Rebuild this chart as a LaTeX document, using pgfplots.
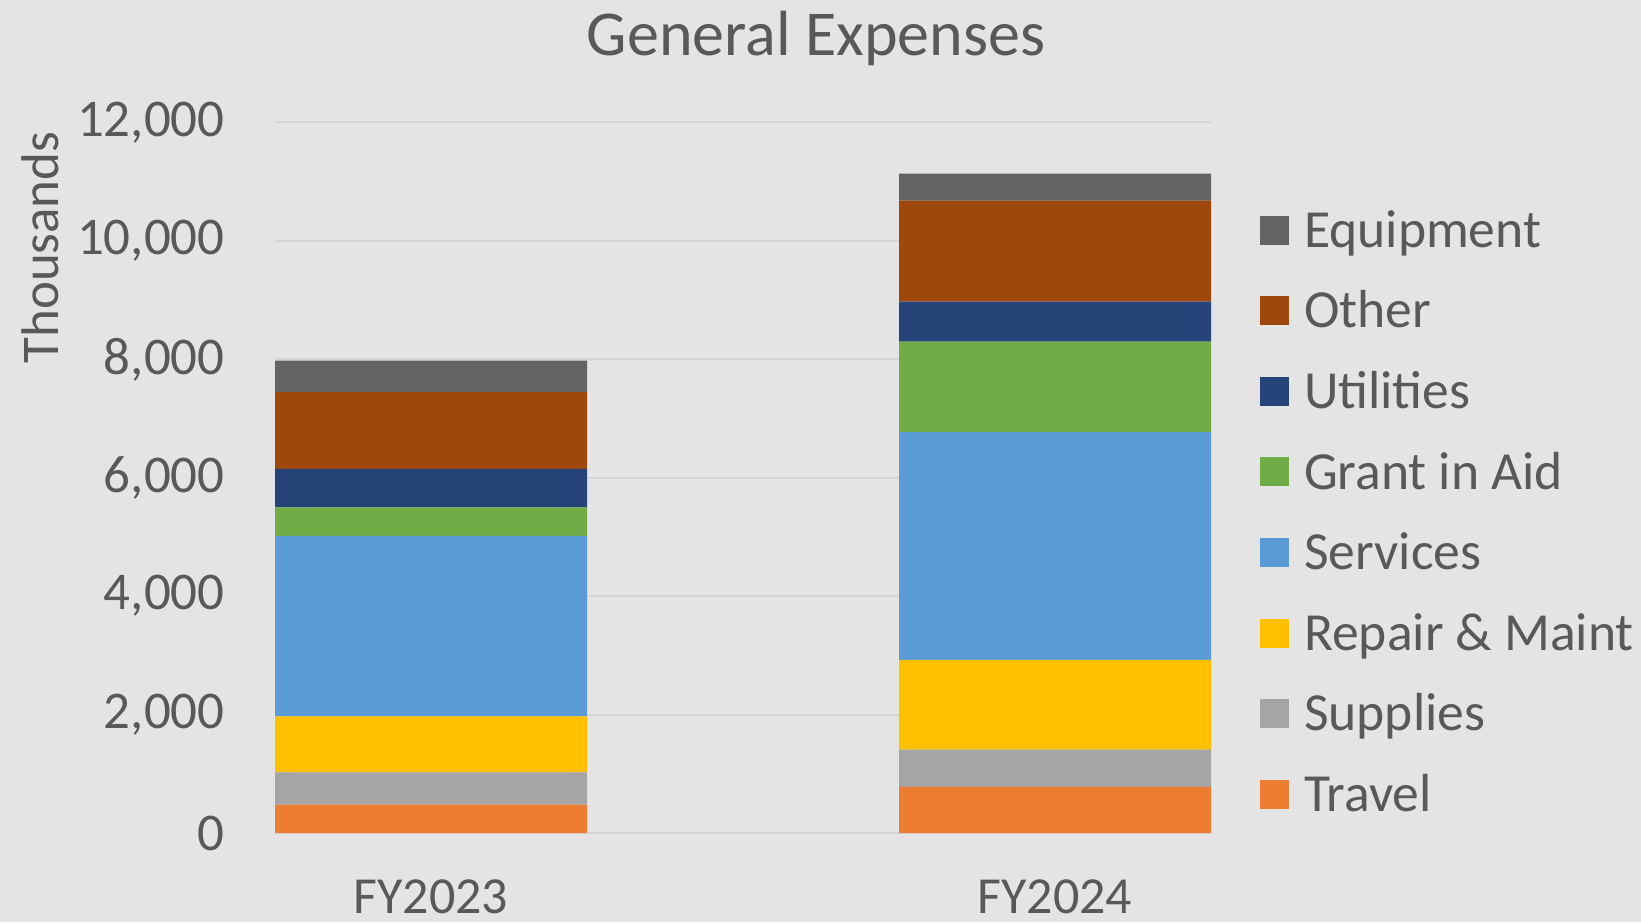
\documentclass[border=0pt]{standalone}
\usepackage{pgfplots}
\pgfplotsset{compat=1.18}
\usepackage{fontspec}
\setmainfont{Carlito}
\definecolor{bg}{HTML}{E4E4E4}
\definecolor{gridc}{HTML}{D5D5D5}
\definecolor{textc}{HTML}{595959}
\definecolor{cTravel}{HTML}{ED7D31}
\definecolor{cSupplies}{HTML}{A5A5A5}
\definecolor{cRepair}{HTML}{FFC000}
\definecolor{cServices}{HTML}{5B9BD5}
\definecolor{cGrant}{HTML}{70AD47}
\definecolor{cUtilities}{HTML}{264478}
\definecolor{cOther}{HTML}{9E480E}
\definecolor{cEquipment}{HTML}{636363}
\begin{document}
\begin{tikzpicture}
\fill[bg] (0,0) rectangle (820.5pt,461pt);
\node[text=textc, font=\fontsize{32pt}{36pt}\selectfont, inner sep=0pt] at (408pt,442pt) {General Expenses};
\begin{axis}[
  at={(137.5pt,44.5pt)}, anchor=south west,
  scale only axis, width=468pt, height=355.25pt,
  ybar stacked, bar width=0.5,
  xmin=-0.25, xmax=1.25, ymin=0, ymax=12000,
  xtick={0,1}, xticklabels={FY2023,FY2024},
  ytick={0,2000,...,12000},
  axis line style={draw=none},
  major tick length=0pt,
  ymajorgrids, grid style={draw=gridc, line width=1pt},
  scaled y ticks=false,
  yticklabel style={/pgf/number format/fixed, /pgf/number format/1000 sep={,}, /pgf/number format/assume math mode=true, anchor=east, inner sep=0pt, xshift=-25pt, text=textc, font=\fontsize{26.5pt}{30pt}\selectfont},
  xticklabel style={anchor=center, inner sep=0pt, yshift=-32pt, text=textc, font=\fontsize{26pt}{30pt}\selectfont},
  ylabel={Thousands},
  ylabel style={at={(axis description cs:-0.251,0.824)}, anchor=center, rotate=0, inner sep=0pt, text=textc, font=\fontsize{26.5pt}{30pt}\selectfont},
  legend image code/.code={\fill[#1] (0pt,-7.25pt) rectangle (14.5pt,7.25pt);},
  reverse legend,
  legend cell align=left,
  legend style={at={(1.0524,0.8730)}, anchor=north west, draw=none, fill=none, inner sep=0pt, outer sep=0pt, row sep=23pt, column sep=7.5pt, font=\fontsize{26.8pt}{30pt}\selectfont, nodes={inner sep=0pt, text height=17.3pt, text depth=0pt, text=textc}},
  every axis plot/.append style={draw=none},
]
\addplot[fill=cTravel] coordinates {(0,480) (1,780)};
\addplot[fill=cSupplies] coordinates {(0,545) (1,630)};
\addplot[fill=cRepair] coordinates {(0,945) (1,1515)};
\addplot[fill=cServices] coordinates {(0,3050) (1,3845)};
\addplot[fill=cGrant] coordinates {(0,480) (1,1530)};
\addplot[fill=cUtilities] coordinates {(0,650) (1,675)};
\addplot[fill=cOther] coordinates {(0,1295) (1,1705)};
\addplot[fill=cEquipment] coordinates {(0,535) (1,455)};
\legend{Travel,Supplies,Repair \& Maint,Services,Grant in Aid,Utilities,Other,Equipment}
\end{axis}
\pgfresetboundingbox
\useasboundingbox (0,0) rectangle (820.5pt,461pt);
\end{tikzpicture}
\end{document}
